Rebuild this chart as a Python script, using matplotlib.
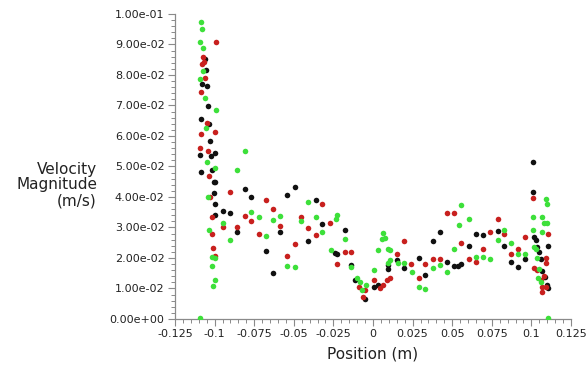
import numpy as np
import matplotlib
matplotlib.use("Agg")
import matplotlib.pyplot as plt
from matplotlib.ticker import MultipleLocator, FuncFormatter

# position (m) / velocity magnitude (m/s)
green_x = [-0.1083, -0.1079, -0.1089, -0.1073, -0.1073, -0.1089, -0.1062, -0.0993, -0.1055, -0.1048,
           -0.0995, -0.0810, -0.0857, -0.1039, -0.0947, -0.0769, -0.0719, -0.0632, -0.0586, -0.1035,
           -0.0901, -0.0675, -0.1014, -0.0995, -0.1016, -0.0999, -0.1010, -0.0544, -0.0494, -0.1093,
           -0.0409, -0.0362, -0.0452, -0.0321, -0.0227, -0.0231, -0.0268, -0.0179, -0.0137, -0.0102,
           -0.0080, -0.0070, -0.0045, 0.0009, 0.0034, 0.0055, 0.0066, 0.0076, 0.0093, 0.0108,
           0.0108, 0.0097, 0.0155, 0.0197, 0.0247, 0.0289, 0.0331, 0.0379, 0.0425, 0.0469,
           0.0511, 0.0540, 0.0556, 0.0603, 0.0650, 0.0692, 0.0738, 0.0786, 0.0828, 0.0874,
           0.0918, 0.0962, 0.1012, 0.1012, 0.1016, 0.1026, 0.1037, 0.1048, 0.1041, 0.1058,
           0.1095, 0.1100, 0.1068, 0.1079, 0.1100, 0.1068, 0.1106]
green_y = [0.0973, 0.0950, 0.0907, 0.0888, 0.0813, 0.0787, 0.0724, 0.0685, 0.0625, 0.0516,
           0.0494, 0.0551, 0.0489, 0.0399, 0.0316, 0.0350, 0.0333, 0.0325, 0.0338, 0.0292,
           0.0260, 0.0272, 0.0202, 0.0199, 0.0175, 0.0128, 0.0109, 0.0174, 0.0171, 0.0002,
           0.0385, 0.0335, 0.0322, 0.0286, 0.0340, 0.0329, 0.0226, 0.0261, 0.0170, 0.0133,
           0.0122, 0.0095, 0.0111, 0.0161, 0.0226, 0.0261, 0.0281, 0.0265, 0.0229, 0.0226,
           0.0193, 0.0183, 0.0183, 0.0185, 0.0155, 0.0106, 0.0098, 0.0166, 0.0177, 0.0155,
           0.0230, 0.0307, 0.0374, 0.0327, 0.0202, 0.0204, 0.0198, 0.0259, 0.0292, 0.0250,
           0.0212, 0.0212, 0.0335, 0.0292, 0.0237, 0.0229, 0.0199, 0.0163, 0.0133, 0.0122,
           0.0392, 0.0376, 0.0335, 0.0316, 0.0316, 0.0286, 0.0004]

red_x = [-0.0993, -0.1073, -0.1068, -0.1081, -0.1062, -0.1085, -0.1048, -0.1087, -0.0997, -0.1089,
         -0.1041, -0.1035, -0.0901, -0.1026, -0.1018, -0.0947, -0.0860, -0.0811, -0.0769, -0.0675,
         -0.0634, -0.0588, -0.0722, -0.1014, -0.1010, -0.0999, -0.0494, -0.0544, -0.0321, -0.0452,
         -0.0409, -0.0362, -0.0271, -0.0179, -0.0137, -0.0227, -0.0091, -0.0049, 0.0009, 0.0045,
         0.0066, 0.0086, 0.0108, 0.0195, 0.0154, 0.0243, 0.0331, 0.0377, 0.0289, -0.0060,
         0.0469, 0.0511, 0.0556, 0.0421, 0.0603, 0.0650, 0.0692, 0.0738, 0.0786, 0.0828,
         0.0874, 0.0918, 0.0962, 0.1012, 0.1106, 0.1095, 0.1095, 0.1016, 0.1037, 0.1079,
         0.1058, 0.1068, 0.1068, 0.1089]
red_y = [0.0907, 0.0860, 0.0842, 0.0835, 0.0791, 0.0743, 0.0642, 0.0606, 0.0612, 0.0560,
         0.0551, 0.0469, 0.0417, 0.0401, 0.0333, 0.0303, 0.0303, 0.0337, 0.0322, 0.0390,
         0.0360, 0.0305, 0.0278, 0.0278, 0.0234, 0.0208, 0.0245, 0.0207, 0.0376, 0.0335,
         0.0298, 0.0276, 0.0316, 0.0220, 0.0220, 0.0181, 0.0106, 0.0095, 0.0128, 0.0101,
         0.0111, 0.0128, 0.0135, 0.0257, 0.0212, 0.0181, 0.0181, 0.0197, 0.0134, 0.0073,
         0.0348, 0.0348, 0.0248, 0.0198, 0.0197, 0.0188, 0.0229, 0.0284, 0.0327, 0.0279,
         0.0214, 0.0230, 0.0268, 0.0396, 0.0278, 0.0201, 0.0183, 0.0166, 0.0161, 0.0141,
         0.0128, 0.0106, 0.0090, 0.0106]

black_x = [-0.1062, -0.1055, -0.1081, -0.1048, -0.1041, -0.1083, -0.1035, -0.1026, -0.1089, -0.1020,
           -0.0995, -0.1087, -0.1016, -0.1006, -0.0995, -0.1006, -0.0999, -0.0997, -0.0947, -0.0901,
           -0.0810, -0.0768, -0.0857, -0.0675, -0.0632, -0.0588, -0.0544, -0.0494, -0.0360, -0.0321,
           -0.0409, -0.0179, -0.0237, -0.0227, -0.0137, -0.0112, -0.0053, 0.0009, 0.0034, 0.0097,
           0.0093, 0.0154, 0.0195, 0.0289, 0.0331, 0.0379, 0.1012, 0.1012, 0.0425, 0.0469,
           0.0511, 0.0536, 0.0556, 0.0603, 0.0650, 0.0692, 0.0786, 0.0828, 0.0874, 0.0918,
           0.0962, 0.1016, 0.1026, 0.1037, 0.1048, 0.1106, 0.1058, 0.1068, 0.1083, 0.1100,
           0.1104]
black_y = [0.0851, 0.0815, 0.0770, 0.0765, 0.0699, 0.0655, 0.0638, 0.0585, 0.0538, 0.0534,
           0.0543, 0.0481, 0.0489, 0.0448, 0.0450, 0.0412, 0.0377, 0.0342, 0.0355, 0.0347,
           0.0426, 0.0399, 0.0286, 0.0224, 0.0152, 0.0286, 0.0408, 0.0432, 0.0390, 0.0310,
           0.0256, 0.0293, 0.0217, 0.0212, 0.0177, 0.0128, 0.0066, 0.0106, 0.0111, 0.0164,
           0.0177, 0.0193, 0.0166, 0.0201, 0.0145, 0.0257, 0.0516, 0.0415, 0.0284, 0.0186,
           0.0174, 0.0175, 0.0179, 0.0240, 0.0278, 0.0274, 0.0289, 0.0240, 0.0186, 0.0171,
           0.0196, 0.0270, 0.0259, 0.0237, 0.0221, 0.0240, 0.0196, 0.0158, 0.0139, 0.0111,
           0.0102]

plt.rcParams['font.family'] = 'DejaVu Sans'

fig = plt.figure(figsize=(5.88, 3.72), dpi=100)
ax = fig.add_axes([0.2976, 0.1425, 0.6735, 0.8199])

dot = 16
ax.scatter(black_x, black_y, s=dot, color='#111111', linewidths=0, zorder=3)
ax.scatter(red_x, red_y, s=dot, color='#c8201e', linewidths=0, zorder=4)
ax.scatter(green_x, green_y, s=dot, color='#3de03a', linewidths=0, zorder=5)

ax.set_xlim(-0.125, 0.125)
ax.set_ylim(0, 0.1)

ax.xaxis.set_major_locator(MultipleLocator(0.025))
ax.xaxis.set_minor_locator(MultipleLocator(0.005))
ax.yaxis.set_major_locator(MultipleLocator(0.01))
ax.yaxis.set_minor_locator(MultipleLocator(0.002))


def xfmt(v, pos):
    v = round(v, 3)
    if v == 0:
        return '0'
    return f'{v:g}'


ax.xaxis.set_major_formatter(FuncFormatter(xfmt))
ax.yaxis.set_major_formatter(FuncFormatter(lambda v, p: f'{v:.2e}'))

for s in ['top', 'right']:
    ax.spines[s].set_visible(False)
for s in ['left', 'bottom']:
    ax.spines[s].set_color('#8a8a8a')
    ax.spines[s].set_linewidth(0.9)

ax.tick_params(which='major', length=5, width=0.8, color='#8a8a8a',
               labelsize=8, labelcolor='#222222', pad=2.5)
ax.tick_params(which='minor', length=3, width=0.7, color='#8a8a8a')

ax.set_xlabel('Position (m)', fontsize=11, color='#222222', labelpad=5)
fig.text(97 / 588, 1 - 185 / 372, 'Velocity\nMagnitude\n(m/s)', fontsize=11,
         color='#222222', ha='right', va='center', multialignment='right',
         linespacing=1.05)

fig.savefig('out.png', dpi=100)
